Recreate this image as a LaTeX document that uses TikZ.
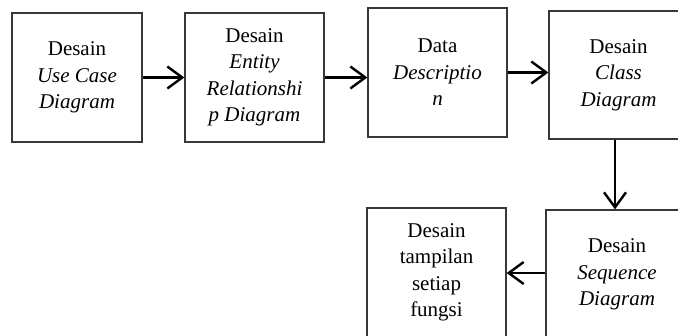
\documentclass[tikz,border=0pt]{standalone}
\usepackage{fontspec}
\setmainfont{Liberation Serif}
\usetikzlibrary{arrows.meta}
\begin{document}
\begin{tikzpicture}[x=1pt,y=-1pt,
  box/.style={draw=black!78,line width=1.3pt,rectangle,inner sep=0pt,
    minimum width=#1,minimum height=129pt,align=center,
    font=\fontsize{21}{26.5}\selectfont},
  box/.default=132pt,
  arr/.style={line width=2.6pt,-{Straight Barb[length=15pt,width=22pt,line width=2.4pt]}}]
\useasboundingbox (0,0) rectangle (678,335);
\clip (0,0) rectangle (678,335);
\node[box=130pt] (b1) at (77,77.5) {Desain\\\textit{Use Case}\\\textit{Diagram}};
\node[box=139pt] (b2) at (254.5,77.5) {Desain\\\textit{Entity}\\\textit{Relationshi}\\\textit{p Diagram}};
\node[box=139pt] (b3) at (437.5,72.5) {Data\\\textit{Descriptio}\\\textit{n}};
\node[box=139pt,minimum height=128pt] (b4) at (618.5,75) {Desain\\\textit{Class}\\\textit{Diagram}};
\node[box=142pt] (b5) at (617,274.5) {Desain\\\textit{Sequence}\\\textit{Diagram}};
\node[box=139pt] (b6) at (436.5,272.5) {Desain\\tampilan\\setiap\\fungsi};
\draw[arr] (b1.east) -- (b1.east -| b2.west);
\draw[arr] (b2.east) -- (b2.east -| b3.west);
\draw[arr] (b3.east) -- (b3.east -| b4.west);
\draw[arr] (b4.south -| 615,0) -- (b5.north -| 615,0);
\draw[arr] (b5.west |- 0,273) -- (b6.east |- 0,273);
\end{tikzpicture}
\end{document}
